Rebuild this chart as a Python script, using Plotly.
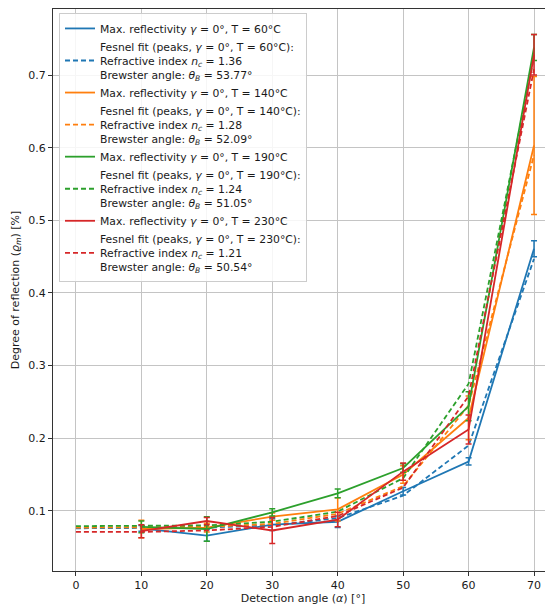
import plotly.graph_objects as go

# ---------------- data ----------------
angles_meas = [10, 20, 30, 40, 50, 60, 70]
angles_fit = [0, 10, 20, 30, 40, 50, 60, 70]

temps = ["60", "140", "190", "230"]
n_c = ["1.36", "1.28", "1.24", "1.21"]
theta_b = ["53.77", "52.09", "51.05", "50.54"]

meas_60 = [0.076, 0.066, 0.081, 0.085, 0.127, 0.168, 0.461]
err_60 = [0.004, 0.008, 0.008, 0.008, 0.005, 0.005, 0.011]
meas_140 = [0.075, 0.077, 0.092, 0.102, 0.150, 0.228, 0.603]
err_140 = [0.012, 0.006, 0.005, 0.016, 0.012, 0.030, 0.095]
meas_190 = [0.078, 0.075, 0.098, 0.124, 0.159, 0.244, 0.738]
err_190 = [0.008, 0.017, 0.005, 0.006, 0.006, 0.020, 0.018]
meas_230 = [0.072, 0.086, 0.073, 0.088, 0.154, 0.212, 0.728]
err_230 = [0.009, 0.005, 0.018, 0.010, 0.012, 0.020, 0.028]

fit_60 = [0.076, 0.076, 0.077, 0.080, 0.090, 0.121, 0.190, 0.447]
fit_140 = [0.077, 0.077, 0.078, 0.082, 0.096, 0.134, 0.245, 0.590]
fit_190 = [0.079, 0.079, 0.080, 0.085, 0.099, 0.145, 0.275, 0.725]
fit_230 = [0.071, 0.071, 0.073, 0.078, 0.093, 0.132, 0.258, 0.708]

x_ticks = [0, 10, 20, 30, 40, 50, 60, 70]
y_ticks = [0.1, 0.2, 0.3, 0.4, 0.5, 0.6, 0.7]

colors = ["#1f77b4", "#ff7f0e", "#2ca02c", "#d62728"]
meas = [meas_60, meas_140, meas_190, meas_230]
errs = [err_60, err_140, err_190, err_230]
fits = [fit_60, fit_140, fit_190, fit_230]

fig = go.Figure()
for i in range(4):
    fig.add_trace(go.Scatter(
        x=angles_meas, y=meas[i], mode="lines",
        line=dict(color=colors[i], width=1.8),
        error_y=dict(type="data", array=errs[i], visible=True,
                     color=colors[i], thickness=1.5, width=3),
        name=f"Max. reflectivity <i>γ</i> = 0°, T = {temps[i]}°C",
    ))
    fig.add_trace(go.Scatter(
        x=angles_fit, y=fits[i], mode="lines",
        line=dict(color=colors[i], width=1.8, dash="5px,3px"),
        name=(f"Fesnel fit (peaks, <i>γ</i> = 0°, T = {temps[i]}°C):<br>"
              f"Refractive index <i>n<sub>c</sub></i> = {n_c[i]}<br>"
              f"Brewster angle: <i>θ<sub>B</sub></i> = {theta_b[i]}°"),
    ))

axis_common = dict(
    showgrid=True, gridcolor="#c4c4c4", gridwidth=1,
    showline=True, linecolor="#333333", linewidth=1,
    ticks="outside", ticklen=4, tickcolor="#333333",
    tickfont=dict(size=11, color="#1a1a1a"),
    zeroline=False, automargin=False,
)

# the page body adds an 8px offset, so the figure is 8px smaller in each direction
fig.update_layout(
    width=545, height=599,
    margin=dict(l=45, r=0, t=1, b=36),
    paper_bgcolor="white", plot_bgcolor="white",
    font=dict(family="DejaVu Sans", size=11, color="#1a1a1a"),
    showlegend=True,
    legend=dict(
        x=0.012, y=0.993, xanchor="left", yanchor="top",
        bgcolor="rgba(255,255,255,0.85)", bordercolor="#cccccc", borderwidth=1,
        font=dict(size=10.8, color="#1a1a1a"), tracegroupgap=0,
        itemwidth=30,
    ),
    xaxis=dict(range=[-3.5, 72.9], tickvals=x_ticks, mirror=True,
               title=dict(text="Detection angle (<i>α</i>) [°]", font=dict(size=11), standoff=2),
               **axis_common),
    yaxis=dict(range=[0.0172, 0.791], tickvals=y_ticks, tickformat=".1f",
               title=dict(text="Degree of reflection (<i>ϱ<sub>m</sub></i>) [%]", font=dict(size=11), standoff=6),
               **axis_common),
)

fig.write_html("out.html")
